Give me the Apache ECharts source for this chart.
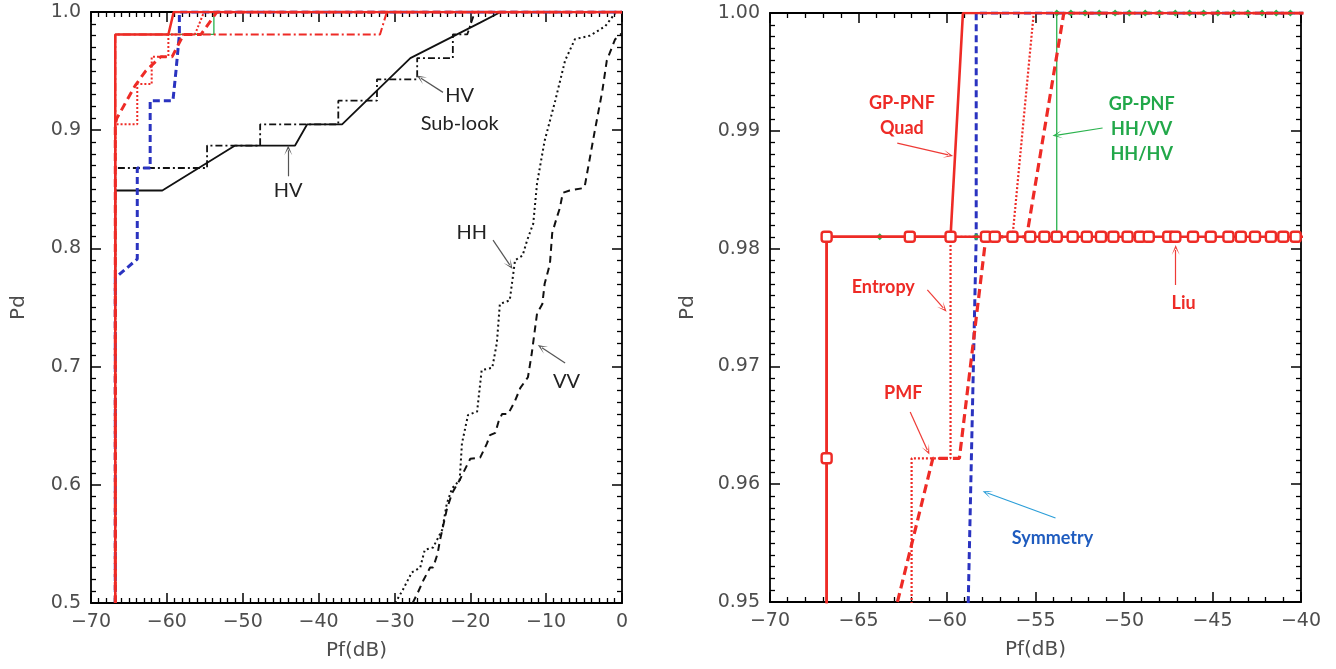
<!DOCTYPE html>
<html>
<head>
<meta charset="utf-8">
<script src="https://cdn.jsdelivr.net/npm/echarts@6/dist/echarts.min.js"></script>
<style>
html,body{margin:0;padding:0;background:#fff;}
#chart{width:1336px;height:669px;}
</style>
</head>
<body>
<div id="chart"></div>
<script>
// tick values (left = full view, right = zoomed view)
var leftPfTicks = [-70, -60, -50, -40, -30, -20, -10, 0];
var leftPdTicks = [0.5, 0.6, 0.7, 0.8, 0.9, 1.0];
var rightPfTicks = [-70, -65, -60, -55, -50, -45, -40];
var rightPdTicks = [0.95, 0.96, 0.97, 0.98, 0.99, 1.00];

// curves, [Pf(dB), Pd]
var quadPts = [[-66.8,0.5],[-66.8,0.981],[-59.8,0.981],[-59.1,1.0],[0,1.0]];
var liuPts = [[-66.8,0.5],[-66.8,0.9622],[-66.8,0.981],[-62.1,0.981],[-59.8,0.981],[-57.8,0.981],[-57.3,0.981],
  [-56.3,0.981],[-55.3,0.981],[-54.5,0.981],[-53.8,0.981],[-52.9,0.981],[-52.1,0.981],[-51.3,0.981],[-50.6,0.981],
  [-49.8,0.981],[-49.1,0.981],[-48.6,0.981],[-47.5,0.981],[-47.1,0.981],[-46.1,0.981],[-45.1,0.981],[-44.1,0.981],
  [-43.4,0.981],[-42.6,0.981],[-41.7,0.981],[-41.0,0.981],[-40.3,0.981],[-31.9,0.981],[-31.0,1.0],[0,1.0]];
var greenPts = [[-66.8,0.5],[-66.8,0.9622],[-66.8,0.981],[-63.8,0.981],[-59.8,0.981],[-58.35,0.981],[-57.2,0.981],
  [-56.3,0.981],[-55.3,0.981],[-53.8,0.981],[-53.8,1.0],[-53.0,1.0],[-52.2,1.0],[-51.4,1.0],[-50.5,1.0],[-49.7,1.0],
  [-48.8,1.0],[-48.0,1.0],[-47.1,1.0],[-46.3,1.0],[-45.5,1.0],[-44.7,1.0],[-43.8,1.0],[-43.0,1.0],[-42.2,1.0],
  [-41.4,1.0],[-40.6,1.0],[0,1.0]];
var entropyPts = [[-66.8,0.5],[-66.8,0.905],[-63.9,0.905],[-63.9,0.939],[-62.0,0.939],[-62.0,0.9622],[-59.8,0.9622],
  [-59.8,0.981],[-56.3,0.981],[-55.1,1.0],[0,1.0]];
var pmfPts = [[-66.8,0.5],[-66.8,0.905],[-66.6,0.91],[-64.2,0.9375],[-62.8,0.95],[-60.8,0.9622],[-59.3,0.9622],
  [-57.8,0.981],[-55.5,0.981],[-53.4,1.0],[0,1.0]];
var symmetryPts = [[-66.8,0.5],[-66.8,0.775],[-63.9,0.791],[-63.9,0.868],[-62.2,0.868],[-62.2,0.925],[-59.2,0.925],
  [-58.8,0.95],[-58.35,0.981],[-58.35,1.0],[0,1.0]];
var hvPts = [[-66.8,0.756],[-66.8,0.849],[-60.6,0.849],[-51.0,0.887],[-43.1,0.887],[-41.5,0.905],[-36.9,0.905],
  [-27.9,0.961],[-18.7,0.991],[-16.0,1.0],[0,1.0]];
var subLookPts = [[-66.8,0.756],[-66.8,0.868],[-54.7,0.868],[-54.7,0.887],[-47.7,0.887],[-47.7,0.905],[-37.4,0.905],
  [-37.4,0.925],[-32.3,0.925],[-32.3,0.943],[-27.0,0.943],[-27.0,0.961],[-22.3,0.961],[-22.3,0.981],[-20.4,0.981],
  [-19.4,1.0],[0,1.0]];
var hhPts = [[-29.9,0.5],[-28.9,0.511],[-27.7,0.526],[-26.6,0.530],[-26.0,0.545],[-24.9,0.547],[-23.7,0.562],
  [-23.1,0.584],[-22.4,0.597],[-21.4,0.604],[-21.1,0.635],[-20.3,0.659],[-19.1,0.662],[-18.5,0.697],[-17.1,0.699],
  [-16.5,0.720],[-16.1,0.753],[-14.8,0.756],[-14.1,0.790],[-13.1,0.794],[-12.5,0.807],[-11.7,0.821],[-11.2,0.855],
  [-10.2,0.891],[-8.8,0.925],[-7.5,0.959],[-6.2,0.977],[-4.2,0.980],[-2.2,0.988],[-0.9,0.999]];
var vvPts = [[-27.6,0.5],[-26.9,0.509],[-26.2,0.519],[-25.3,0.530],[-24.9,0.530],[-24.3,0.542],[-24.0,0.553],
  [-23.1,0.579],[-22.4,0.593],[-21.4,0.604],[-20.4,0.617],[-20.0,0.622],[-18.7,0.623],[-17.8,0.635],[-17.4,0.642],
  [-16.7,0.644],[-16.3,0.653],[-15.8,0.660],[-15.0,0.660],[-14.1,0.671],[-13.4,0.682],[-12.4,0.691],[-11.9,0.711],
  [-11.2,0.745],[-10.5,0.753],[-10.2,0.770],[-9.5,0.787],[-9.2,0.813],[-8.6,0.826],[-8.2,0.834],[-7.8,0.847],
  [-6.9,0.849],[-5.1,0.851],[-4.9,0.853],[-3.6,0.899],[-2.6,0.933],[-2.0,0.959],[-0.9,0.977],[0,0.982]];

// annotations: [text, Pf, Pd]
var leftLabels = [['HV', -44.0, 0.849], ['HV', -21.4, 0.929], ['Sub-look', -21.4, 0.906], ['HH', -19.8, 0.813], ['VV', -7.3, 0.687]];
var leftArrows = [[-44.0,0.861,-44.0,0.883], [-23.6,0.932,-26.5,0.944], [-17.0,0.807,-14.8,0.786], [-7.5,0.703,-10.55,0.716]];
var rightLabels = [['GP-PNF\nQuad', -62.55, 0.9913, 'red'], ['GP-PNF\nHH/VV\nHH/HV', -49.0, 0.9901, 'green'],
  ['Entropy', -63.6, 0.97674, 'red'], ['PMF', -62.47, 0.96774, 'red'], ['Symmetry', -54.04, 0.95543, 'blue'], ['Liu', -46.63, 0.97538, 'red']];
var rightArrows = [[-62.81,0.98896,-59.93,0.98795,'red'], [-51.21,0.99024,-53.76,0.98964,'green'],
  [-61.11,0.97649,-60.21,0.97496,'red'], [-62.08,0.96613,-61.11,0.9629,'red'],
  [-53.87,0.95713,-57.72,0.95925,'sky'], [-47.08,0.97691,-47.08,0.97988,'red']];

var red = '#ee2b26', blue = '#2a33c0', green = '#27b04b', black = '#111';
var labelColors = {red: '#ee2b26', green: '#22a84a', blue: '#1f5cbf'};
var arrowColors = {red: '#ee3b36', green: '#2bb34e', sky: '#2b9ed8'};
var arrowHead = 'path://M5,0 L10,12 L5,4 L0,12 Z';

var myChart = echarts.init(document.getElementById('chart'));

function minus(v, d) {
    var s = Math.abs(v).toFixed(d);
    return (v < -1e-9 ? '\u2212' : '') + s;
}

function makeAxis(grid, pos, ticks, minorSplit, decimals, showLabel, name, gap) {
    var ax = {
        type: 'value', gridIndex: grid, position: pos,
        min: ticks[0], max: ticks[ticks.length - 1], interval: +(ticks[1] - ticks[0]).toFixed(4),
        axisLine: {show: true, onZero: false, lineStyle: {color: '#000', width: 1.8}},
        axisTick: {show: true, inside: true, length: 10, lineStyle: {color: '#000', width: 1.5}},
        minorTick: {show: true, splitNumber: minorSplit, length: 5, lineStyle: {color: '#000', width: 1.3}},
        splitLine: {show: false}, minorSplitLine: {show: false},
        axisLabel: {
            show: showLabel, margin: 10, color: '#4d4d4d', fontSize: 19, fontFamily: 'DejaVu Sans',
            formatter: function (v) { return minus(v, decimals); }
        }
    };
    if (name) {
        ax.name = name;
        ax.nameLocation = 'middle';
        ax.nameGap = gap;
        ax.nameTextStyle = {color: '#4d4d4d', fontSize: 20, fontFamily: 'DejaVu Sans'};
    }
    return ax;
}

function line(data, xi, yi, color, width, type, z) {
    return {
        type: 'line', xAxisIndex: xi, yAxisIndex: yi, data: data,
        symbol: 'none', showSymbol: false, clip: true, animation: false, silent: true, z: z,
        lineStyle: {color: color, width: width, type: type, cap: 'butt'}
    };
}

function arrowLines(list) {
    return list.map(function (a) {
        return [{coord: [a[0], a[1]], lineStyle: {color: arrowColors[a[4]] || '#555'}},
                {coord: [a[2], a[3]]}];
    });
}

var leftSeries = [
    line(hhPts, 0, 0, black, 2, [2, 3], 2),
    line(vvPts, 0, 0, black, 2, [7, 5], 2),
    line(hvPts, 0, 0, black, 1.8, 'solid', 3),
    line(subLookPts, 0, 0, black, 1.8, [7, 3, 2, 3], 3),
    line(greenPts, 0, 0, green, 1.3, 'solid', 4),
    line(symmetryPts, 0, 0, blue, 3, [7, 4], 4),
    line(entropyPts, 0, 0, red, 2, [2, 2], 5),
    line(pmfPts, 0, 0, red, 3, [8, 5], 5),
    line(liuPts, 0, 0, red, 2, [8, 3, 2, 3], 5),
    line(quadPts, 0, 0, red, 2.5, 'solid', 6)
];
leftSeries[0].markPoint = {
    symbol: 'circle', symbolSize: 1, itemStyle: {color: 'transparent'}, animation: false,
    data: leftLabels.map(function (l) {
        return {name: l[0], coord: [l[1], l[2]], label: {show: true, position: 'inside', formatter: '{b}',
            color: '#222', fontSize: 20, fontFamily: 'Lato'}};
    })
};
leftSeries[0].markLine = {
    silent: true, animation: false, symbol: ['none', arrowHead], symbolSize: [8, 10], label: {show: false},
    lineStyle: {color: '#555', width: 1.2, type: 'solid'}, data: arrowLines(leftArrows)
};

var liuRight = line(liuPts, 2, 2, red, 2.4, 'solid', 6);
liuRight.symbol = 'roundRect';
liuRight.showSymbol = true;
liuRight.showAllSymbol = true;
liuRight.symbolSize = 10;
liuRight.itemStyle = {color: '#fff', borderColor: red, borderWidth: 2.4};

var greenRight = line(greenPts, 2, 2, green, 1.3, 'solid', 5);
greenRight.symbol = 'diamond';
greenRight.showSymbol = true;
greenRight.showAllSymbol = true;
greenRight.symbolSize = 7;
greenRight.itemStyle = {color: green};

var rightSeries = [
    line(symmetryPts, 2, 2, blue, 3, [7, 4], 4),
    greenRight,
    line(entropyPts, 2, 2, red, 2.2, [2, 2], 5),
    line(pmfPts, 2, 2, red, 3.2, [9, 5], 5),
    liuRight,
    line(quadPts, 2, 2, red, 2.6, 'solid', 6)
];
rightSeries[0].markPoint = {
    symbol: 'circle', symbolSize: 1, itemStyle: {color: 'transparent'}, animation: false,
    data: rightLabels.map(function (l) {
        return {name: l[0], coord: [l[1], l[2]], label: {show: true, position: 'inside', formatter: '{b}',
            color: labelColors[l[3]], fontSize: 18, fontWeight: 'bold', fontFamily: 'Lato', lineHeight: 25}};
    })
};
rightSeries[0].markLine = {
    silent: true, animation: false, symbol: ['none', arrowHead], symbolSize: [8, 10], label: {show: false},
    lineStyle: {width: 1.2, type: 'solid'}, data: arrowLines(rightArrows)
};

var option = {
    backgroundColor: '#fff',
    animation: false,
    grid: [
        {left: 91, top: 12, width: 531, height: 591},
        {left: 770, top: 13, width: 531, height: 589}
    ],
    xAxis: [
        makeAxis(0, 'bottom', leftPfTicks, 10, 0, true, 'Pf(dB)', 38),
        makeAxis(0, 'top', leftPfTicks, 10, 0, false),
        makeAxis(1, 'bottom', rightPfTicks, 5, 0, true, 'Pf(dB)', 38),
        makeAxis(1, 'top', rightPfTicks, 5, 0, false)
    ],
    yAxis: [
        makeAxis(0, 'left', leftPdTicks, 10, 1, true, 'Pd', 62),
        makeAxis(0, 'right', leftPdTicks, 10, 1, false),
        makeAxis(1, 'left', rightPdTicks, 10, 2, true, 'Pd', 72),
        makeAxis(1, 'right', rightPdTicks, 10, 2, false)
    ],
    series: leftSeries.concat(rightSeries)
};

myChart.setOption(option);
</script>
</body>
</html>
